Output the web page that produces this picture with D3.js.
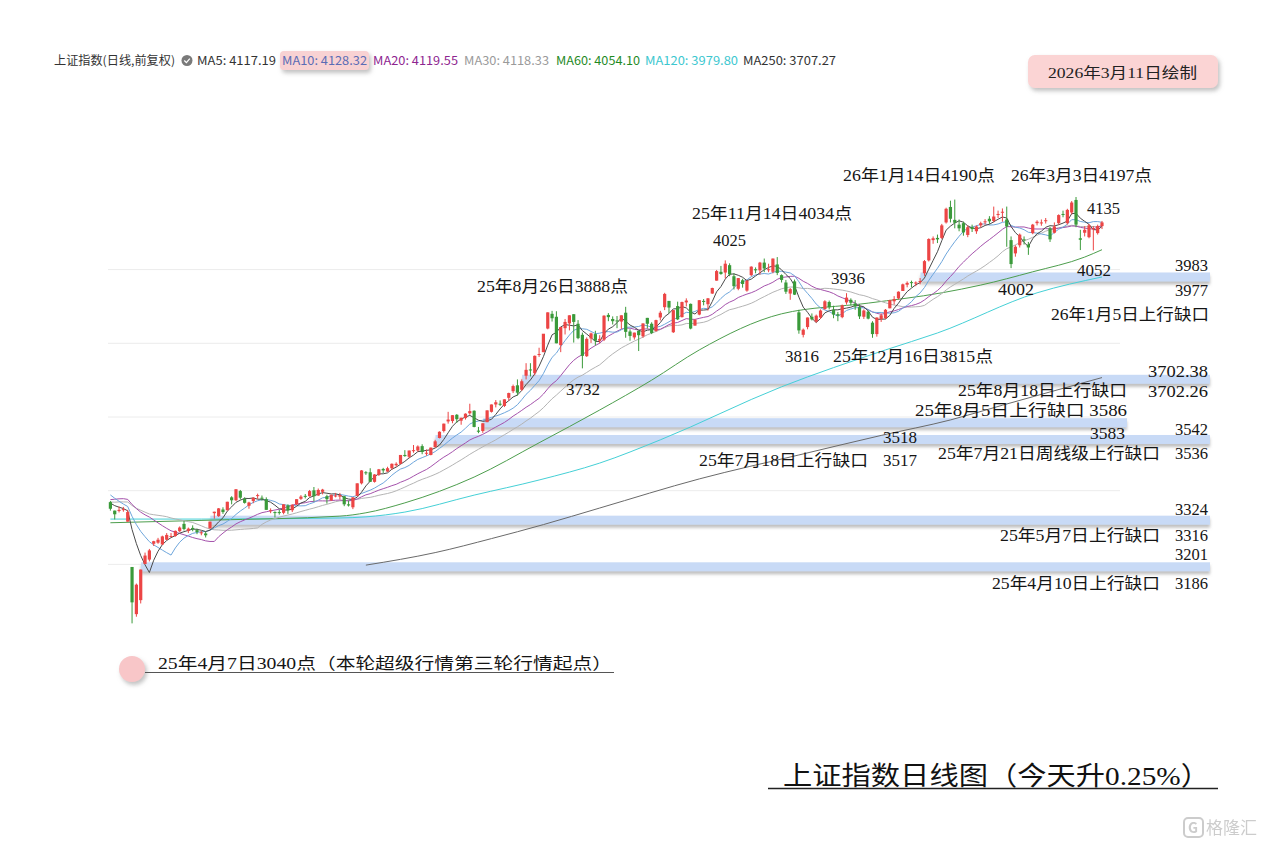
<!DOCTYPE html>
<html><head><meta charset="utf-8">
<script src="https://cdn.jsdelivr.net/npm/d3@7"></script>
<style>body{margin:0;background:#fff;}svg{display:block;}</style>
</head><body>
<svg id="chart" width="1273" height="844"></svg>
<script>
// ---------------- DATA ----------------
const dates = [
"2025-03-28","2025-03-31","2025-04-01","2025-04-02","2025-04-03",
"2025-04-07","2025-04-08","2025-04-09","2025-04-10","2025-04-11","2025-04-14","2025-04-15","2025-04-16","2025-04-17","2025-04-18","2025-04-21","2025-04-22","2025-04-23","2025-04-24","2025-04-25","2025-04-28","2025-04-29","2025-04-30",
"2025-05-06","2025-05-07","2025-05-08","2025-05-09","2025-05-12","2025-05-13","2025-05-14","2025-05-15","2025-05-16","2025-05-19","2025-05-20","2025-05-21","2025-05-22","2025-05-23","2025-05-26","2025-05-27","2025-05-28","2025-05-29","2025-05-30",
"2025-06-03","2025-06-04","2025-06-05","2025-06-06","2025-06-09","2025-06-10","2025-06-11","2025-06-12","2025-06-13","2025-06-16","2025-06-17","2025-06-18","2025-06-19","2025-06-20","2025-06-23","2025-06-24","2025-06-25","2025-06-26","2025-06-27","2025-06-30",
"2025-07-01","2025-07-02","2025-07-03","2025-07-04","2025-07-07","2025-07-08","2025-07-09","2025-07-10","2025-07-11","2025-07-14","2025-07-15","2025-07-16","2025-07-17","2025-07-18","2025-07-21","2025-07-22","2025-07-23","2025-07-24","2025-07-25","2025-07-28","2025-07-29","2025-07-30","2025-07-31",
"2025-08-01","2025-08-04","2025-08-05","2025-08-06","2025-08-07","2025-08-08","2025-08-11","2025-08-12","2025-08-13","2025-08-14","2025-08-15","2025-08-18","2025-08-19","2025-08-20","2025-08-21","2025-08-22","2025-08-25","2025-08-26","2025-08-27","2025-08-28","2025-08-29",
"2025-09-01","2025-09-02","2025-09-03","2025-09-04","2025-09-05","2025-09-08","2025-09-09","2025-09-10","2025-09-11","2025-09-12","2025-09-15","2025-09-16","2025-09-17","2025-09-18","2025-09-19","2025-09-22","2025-09-23","2025-09-24","2025-09-25","2025-09-26","2025-09-29","2025-09-30",
"2025-10-09","2025-10-10","2025-10-13","2025-10-14","2025-10-15","2025-10-16","2025-10-17","2025-10-20","2025-10-21","2025-10-22","2025-10-23","2025-10-24","2025-10-27","2025-10-28","2025-10-29","2025-10-30","2025-10-31",
"2025-11-03","2025-11-04","2025-11-05","2025-11-06","2025-11-07","2025-11-10","2025-11-11","2025-11-12","2025-11-13","2025-11-14","2025-11-17","2025-11-18","2025-11-19","2025-11-20","2025-11-21","2025-11-24","2025-11-25","2025-11-26","2025-11-27","2025-11-28",
"2025-12-01","2025-12-02","2025-12-03","2025-12-04","2025-12-05","2025-12-08","2025-12-09","2025-12-10","2025-12-11","2025-12-12","2025-12-15","2025-12-16","2025-12-17","2025-12-18","2025-12-19","2025-12-22","2025-12-23","2025-12-24","2025-12-25","2025-12-26","2025-12-29","2025-12-30","2025-12-31",
"2026-01-05","2026-01-06","2026-01-07","2026-01-08","2026-01-09","2026-01-12","2026-01-13","2026-01-14","2026-01-15","2026-01-16","2026-01-19","2026-01-20","2026-01-21","2026-01-22","2026-01-23","2026-01-26","2026-01-27","2026-01-28","2026-01-29","2026-01-30",
"2026-02-02","2026-02-03","2026-02-04","2026-02-05","2026-02-06","2026-02-09","2026-02-10","2026-02-11","2026-02-12","2026-02-13","2026-02-24","2026-02-25","2026-02-26","2026-02-27",
"2026-03-02","2026-03-03","2026-03-04","2026-03-05","2026-03-06","2026-03-09","2026-03-10","2026-03-11"];

const opens = [
3369,3346,3345,3350,3316,
3193,3065,3103,3201,3213,3256,3259,3254,3267,3276,3277,3290,3310,3291,3299,3293,3285,3284,
3298,3339,3331,3349,3347,3382,3374,3399,3378,3359,3372,3386,3381,3377,3345,3342,3342,3340,3360,
3347,3363,3378,3386,3385,3401,3387,3397,3385,3374,3387,3384,3385,3363,3355,3386,3420,3450,3450,3424,
3443,3459,3452,3461,3469,3473,3497,3492,3508,3509,3521,3501,3497,3518,3543,3562,3588,3589,3606,3590,3597,3610,3617,
3563,3562,3586,3614,3634,3636,3630,3652,3670,3686,3674,3712,3729,3719,3771,3776,3840,3880,3872,3795,3841,
3854,3879,3853,3823,3765,3813,3825,3807,3810,3877,3866,3862,3859,3883,3832,3816,3834,3819,3869,3853,3833,3870,
3898,3915,3830,3901,3871,3911,3907,3848,3878,3915,3906,3935,3970,3994,3992,4012,3982,
3948,3971,3943,3985,4001,3998,4019,4000,3994,4014,3985,3965,3935,3968,3884,3823,3844,3872,3859,3870,
3893,3912,3891,3879,3871,3911,3918,3908,3898,3872,3886,3856,3825,3866,3868,3895,3914,3922,3942,3959,3966,3962,3966,
3990,4025,4080,4086,4086,4128,4170,4135,4122,4126,4094,4115,4104,4120,4129,4138,4132,4150,4155,4136,
4080,4044,4066,4082,4068,4099,4126,4127,4133,4112,4100,4126,4151,4126,
4155,4189,4085,4100,4088,4110,4099,4118];

const highs = [
3372,3346,3357,3356,3348,
3193,3148,3186,3232,3242,3264,3272,3278,3285,3285,3292,3303,3318,3300,3306,3297,3291,3289,
3316,3343,3353,3355,3370,3385,3404,3402,3382,3370,3382,3392,3387,3382,3352,3344,3348,3363,3363,
3363,3377,3388,3391,3402,3410,3406,3405,3389,3389,3394,3394,3386,3373,3382,3420,3456,3453,3461,3445,
3459,3462,3465,3474,3477,3497,3510,3509,3524,3523,3526,3512,3517,3538,3561,3582,3614,3605,3608,3598,3610,3636,3618,
3573,3583,3618,3634,3646,3645,3648,3666,3688,3702,3702,3746,3746,3767,3788,3825,3884,3888,3887,3845,3866,
3876,3879,3863,3829,3816,3829,3834,3822,3876,3882,3873,3874,3876,3899,3838,3829,3834,3854,3869,3857,3864,3888,
3937,3915,3890,3913,3913,3922,3908,3865,3917,3920,3923,3951,3999,4010,4025,4017,3990,
3977,3975,3972,4009,4006,4021,4030,4016,4030,4034,3987,3972,3950,3973,3891,3840,3870,3881,3878,3892,
3917,3916,3902,3885,3905,3936,3922,3917,3906,3892,3889,3860,3870,3881,3893,3918,3928,3941,3962,3968,3970,3968,3977,
4026,4085,4090,4095,4124,4168,4187,4190,4136,4130,4120,4122,4120,4130,4137,4145,4171,4160,4166,4171,
4090,4066,4098,4090,4075,4124,4134,4136,4140,4116,4128,4150,4160,4165,
4186,4197,4108,4118,4124,4118,4122,4132];

const lows = [
3346,3322,3341,3343,3316,
3040,3058,3094,3201,3208,3250,3256,3253,3266,3274,3275,3288,3292,3285,3290,3282,3279,3273,
3297,3324,3329,3337,3346,3363,3372,3376,3365,3351,3366,3378,3373,3348,3339,3327,3335,3336,3337,
3342,3361,3375,3379,3384,3371,3386,3390,3365,3372,3382,3376,3358,3357,3350,3386,3417,3443,3424,3422,
3440,3448,3451,3457,3465,3472,3492,3488,3503,3506,3499,3495,3496,3518,3542,3558,3582,3583,3584,3579,3593,3606,3572,
3556,3557,3586,3612,3626,3630,3627,3644,3665,3658,3671,3702,3710,3713,3763,3776,3838,3859,3800,3776,3824,
3835,3802,3811,3732,3763,3801,3794,3800,3806,3860,3851,3841,3839,3815,3807,3810,3779,3815,3840,3825,3832,3862,
3890,3881,3828,3863,3870,3900,3838,3848,3876,3903,3889,3934,3970,3986,3976,3982,3946,
3944,3951,3940,3982,3990,3986,3993,3993,3990,3985,3965,3934,3918,3931,3826,3816,3838,3862,3856,3866,
3891,3892,3868,3860,3868,3905,3903,3891,3866,3866,3865,3815,3818,3858,3866,3895,3905,3919,3942,3952,3952,3955,3960,
3983,4022,4070,4072,4083,4125,4128,4112,4104,4092,4088,4102,4097,4114,4122,4124,4128,4140,4130,4062,
4004,4035,4060,4068,4040,4096,4120,4119,4125,4075,4098,4122,4142,4122,
4150,4115,4053,4090,4085,4052,4095,4110];

const closes = [
3351,3336,3348,3350,3342,
3097,3145,3186,3224,3238,3263,3267,3276,3280,3277,3291,3300,3296,3297,3295,3288,3287,3279,
3316,3343,3352,3342,3370,3374,3404,3381,3367,3368,3381,3388,3380,3348,3347,3340,3340,3363,3347,
3362,3377,3384,3385,3399,3385,3402,3403,3377,3389,3387,3388,3363,3360,3382,3420,3455,3448,3424,3444,
3458,3455,3461,3473,3473,3497,3494,3509,3510,3520,3505,3503,3517,3534,3560,3582,3593,3605,3594,3598,3609,3616,3573,
3560,3583,3618,3634,3640,3635,3648,3665,3684,3666,3697,3728,3728,3766,3771,3826,3884,3868,3800,3844,3858,
3876,3858,3814,3766,3812,3827,3807,3812,3875,3871,3860,3861,3876,3831,3820,3829,3822,3854,3853,3828,3863,3883,
3934,3897,3890,3865,3912,3916,3840,3864,3917,3914,3922,3950,3996,3988,4016,3987,3955,
3977,3961,3970,4008,3998,4019,4003,4001,4030,3991,3972,3940,3947,3932,3835,3837,3870,3865,3875,3889,
3914,3898,3878,3875,3903,3924,3910,3900,3873,3889,3867,3825,3870,3876,3891,3917,3920,3940,3960,3964,3965,3965,3969,
4023,4083,4085,4082,4120,4165,4138,4127,4112,4101,4115,4110,4117,4126,4131,4131,4144,4151,4157,4117,
4015,4062,4095,4080,4060,4122,4130,4128,4134,4082,4117,4148,4150,4162,
4182,4122,4081,4108,4120,4112,4118,4128];

// closes before the visible window (only used to warm up MA5..MA30)
const warmupCloses = [3346,3355,3324,3351,3350,3379,3373,3346,3380,3388,3321,3316,3325,3342,3381,3373,3367,3379,3371,3358,3419,3426,3430,3426,3408,3364,3370,3369,3368,3373];

// long moving averages
const ma60Dates  = ["2025-03-28","2025-05-06","2025-06-18","2025-06-26","2025-07-09","2025-07-31","2025-08-21","2025-09-10","2025-09-26","2025-10-21","2025-11-17","2025-12-15","2026-01-09","2026-01-22","2026-02-09","2026-03-05","2026-03-11"];
const ma60Values = [3313,3320,3331,3340,3367,3437,3530,3619,3700,3782,3880,3909,3937,3958,3994,4034,4054];
const ma120Dates  = ["2025-03-28","2025-04-29","2025-06-18","2025-06-26","2025-07-09","2025-07-31","2025-08-21","2025-09-10","2025-09-30","2025-11-17","2025-12-19","2026-01-08","2026-02-10","2026-03-11"];
const ma120Values = [3323,3323,3326,3329,3342,3388,3429,3475,3538,3682,3782,3828,3937,3980];
const ma250Dates  = ["2025-06-26","2025-07-18","2025-08-06","2025-08-22","2025-09-10","2025-10-21","2025-11-21","2025-12-18","2026-01-13","2026-01-29","2026-02-13","2026-03-11"];
const ma250Values = [3198,3232,3270,3308,3353,3432,3497,3550,3592,3632,3668,3707];

// upward gaps
const gapDates = ["2025-04-10","2025-05-07","2025-07-21","2025-08-05","2025-08-18","2026-01-05"];
const gapLow   = [3186,3316,3536,3583,3702.26,3977];
const gapHigh  = [3201,3324,3542,3586,3702.38,3983];

const gridValues = [3200,3400,3600,3800,4000];

const legendLabels = ["MA5: 4117.19","MA10: 4128.32","MA20: 4119.55","MA30: 4118.33","MA60: 4054.10","MA120: 3979.80","MA250: 3707.27"];

// ---------------- DRAW ----------------
const svg = d3.select("#chart");
const defs = svg.append("defs");
const f1 = defs.append("filter").attr("id","bandShadow").attr("x","-2%").attr("y","-100%").attr("width","104%").attr("height","400%");
f1.append("feDropShadow").attr("dx",0).attr("dy",3).attr("stdDeviation",1.6).attr("flood-color","#8c8c8c").attr("flood-opacity",0.55);
const f2 = defs.append("filter").attr("id","boxShadow").attr("x","-20%").attr("y","-40%").attr("width","140%").attr("height","200%");
f2.append("feDropShadow").attr("dx",2).attr("dy",3).attr("stdDeviation",2).attr("flood-color","#999").attr("flood-opacity",0.6);

svg.append("rect").attr("width",1273).attr("height",844).attr("fill","#fff");

const x = d3.scalePoint().domain(dates).range([110.4, 1102]);
const y = d3.scaleLinear().domain([3000, 4200]).range([638.1, 195.9]);

// grid
svg.append("g").selectAll("line").data(gridValues).join("line")
  .attr("x1",108).attr("x2",1120).attr("y1",d=>y(d)).attr("y2",d=>y(d))
  .attr("stroke","#ececec").attr("stroke-width",1);

// gap bands
const gapRight = [1210,1210,1210,1127,1210,1210];
svg.append("g").selectAll("rect").data(gapDates).join("rect")
  .attr("x",d=>x(d)-4)
  .attr("width",(d,i)=>gapRight[i]-(x(d)-4))
  .attr("y",(d,i)=>y((gapLow[i]+gapHigh[i])/2)-4.5)
  .attr("height",9)
  .attr("fill","#c8daf6")
  .attr("filter","url(#bandShadow)");

// moving averages
const allCloses = warmupCloses.concat(closes);
const off = warmupCloses.length;
function ma(n){ return closes.map((c,i)=>d3.mean(allCloses.slice(off+i-n+1, off+i+1))); }
const lineGen = d3.line().x(d=>x(d[0])).y(d=>y(d[1]));
const smoothGen = d3.line().x(d=>x(d[0])).y(d=>y(d[1])).curve(d3.curveMonotoneX);
const maShort = [[30,"#b4b4b4"],[20,"#a552ac"],[10,"#6ea6dc"],[5,"#4a4a4a"]];
const gMA = svg.append("g").attr("fill","none").attr("stroke-width",1);
gMA.append("path").attr("d",smoothGen(d3.zip(ma250Dates,ma250Values))).attr("stroke","#6a6a6a");
gMA.append("path").attr("d",smoothGen(d3.zip(ma120Dates,ma120Values))).attr("stroke","#45d0d6");
gMA.append("path").attr("d",smoothGen(d3.zip(ma60Dates,ma60Values))).attr("stroke","#4d9e4d");
maShort.forEach(([n,col])=>{
  gMA.append("path").attr("d",lineGen(d3.zip(dates,ma(n)))).attr("stroke",col);
});

// candles
const up="#ec4545", dn="#3a9a3a";
const gC = svg.append("g");
dates.forEach((d,i)=>{
  const col = closes[i]>=opens[i]?up:dn;
  gC.append("line").attr("x1",x(d)).attr("x2",x(d)).attr("y1",y(highs[i])).attr("y2",y(lows[i]))
    .attr("stroke",col).attr("stroke-width",1);
  const top=y(Math.max(opens[i],closes[i])), bot=y(Math.min(opens[i],closes[i]));
  gC.append("rect").attr("x",x(d)-1.6).attr("width",3.2).attr("y",top).attr("height",Math.max(1,bot-top)).attr("fill",col);
});

// ---------------- ANNOTATIONS ----------------
const serif = "'Liberation Serif','Noto Sans CJK SC',serif";
const notes = [
 ["26年1月14日4190点",843,181,152],["26年3月3日4197点",1011,181,141],["4135",1087,214,33],
 ["25年11月14日4034点",692,219,160],["4025",713,246,33],["25年8月26日3888点",477,292,151],
 ["3936",831,284,34],["3983",1175,271,33],["4052",1077,276,34],["4002",998,295,36],
 ["3977",1175,296,33],["26年1月5日上行缺口",1051,320,158],["3816",785,362,34],
 ["25年12月16日3815点",833,362,160],["3702.38",1148,377,60],["3732",566,395,34],
 ["25年8月18日上行缺口",958,396,169],["3702.26",1148,397,60],["25年8月5日上行缺口 3586",915,416,212],
 ["3518",883,443,34],["3583",1090,439,35],["3542",1175,435,33],["25年7月18日上行缺口",699,466,169],
 ["3517",883,466,34],["25年7月21日周线级上行缺口",938,459,222],["3536",1175,459,33],
 ["3324",1175,515,33],["25年5月7日上行缺口",1000,541,160],["3316",1175,541,33],
 ["3201",1175,560,33],["25年4月10日上行缺口",992,589,168],["3186",1175,589,33]
];
svg.append("g").selectAll("text").data(notes).join("text")
  .attr("x",d=>d[1]).attr("y",d=>d[2]).attr("textLength",d=>d[3]).attr("lengthAdjust","spacingAndGlyphs")
  .attr("font-family",serif).attr("font-size",16).attr("fill","#151515").text(d=>d[0]);

// bottom start-point note
svg.append("circle").attr("cx",132).attr("cy",669).attr("r",13).attr("fill","#f8c6c8").attr("filter","url(#boxShadow)");
svg.append("line").attr("x1",145).attr("x2",614).attr("y1",672.5).attr("y2",672.5).attr("stroke","#555").attr("stroke-width",1.2);
svg.append("text").attr("x",158).attr("y",669).attr("textLength",454).attr("lengthAdjust","spacingAndGlyphs")
  .attr("font-family",serif).attr("font-size",16).attr("fill","#151515")
  .text("25年4月7日3040点（本轮超级行情第三轮行情起点）");

// title
svg.append("text").attr("x",783).attr("y",785).attr("textLength",427).attr("lengthAdjust","spacingAndGlyphs")
  .attr("font-family",serif).attr("font-size",26).attr("fill","#111").text("上证指数日线图（今天升0.25%）");
svg.append("line").attr("x1",768).attr("x2",1218).attr("y1",788.5).attr("y2",788.5).attr("stroke","#222").attr("stroke-width",1.5);

// date box
svg.append("rect").attr("x",1028).attr("y",55).attr("width",190).attr("height",33).attr("rx",7)
  .attr("fill","#fbd4d4").attr("filter","url(#boxShadow)");
svg.append("text").attr("x",1048).attr("y",78).attr("textLength",149).attr("lengthAdjust","spacingAndGlyphs")
  .attr("font-family",serif).attr("font-size",15).attr("fill","#222").text("2026年3月11日绘制");

// legend
const sans = "'Noto Sans CJK SC','Open Sans',sans-serif";
svg.append("rect").attr("x",280).attr("y",51).attr("width",89).attr("height",19).attr("rx",4)
  .attr("fill","#f8d2d3").attr("filter","url(#boxShadow)");
svg.append("text").attr("x",54).attr("y",65).attr("textLength",121).attr("lengthAdjust","spacingAndGlyphs")
  .attr("font-family",sans).attr("font-size",12).attr("fill","#333").text("上证指数(日线,前复权)");
svg.append("circle").attr("cx",187).attr("cy",60.5).attr("r",5.5).attr("fill","#7a7a7a");
svg.append("path").attr("d","M184.3,60.5 L186.4,62.6 L189.8,58.6").attr("fill","none").attr("stroke","#fff").attr("stroke-width",1.3);
const legX = [197,282,373,464,556,645,743], legW=[79,85,85,85,84,93,93];
const legC = ["#333","#5a6cb5","#8e2590","#9a9a9a","#1f8a1f","#3cc7cf","#333"];
svg.append("g").selectAll("text").data(legendLabels).join("text")
  .attr("x",(d,i)=>legX[i]).attr("y",65).attr("textLength",(d,i)=>legW[i]).attr("lengthAdjust","spacingAndGlyphs")
  .attr("font-family",sans).attr("font-size",12).attr("fill",(d,i)=>legC[i]).text(d=>d);

// watermark
const wm = svg.append("g").attr("opacity",0.5);
wm.append("rect").attr("x",1184).attr("y",818).attr("width",19).attr("height",19).attr("rx",4).attr("fill","none").attr("stroke","#9a9a9a").attr("stroke-width",2);
wm.append("text").attr("x",1188).attr("y",833).attr("font-family",sans).attr("font-size",14).attr("font-weight","bold").attr("fill","#9a9a9a").text("G");
wm.append("text").attr("x",1206).attr("y",834).attr("font-family",sans).attr("font-size",17).attr("fill","#9a9a9a").text("格隆汇");
</script>
</body></html>
